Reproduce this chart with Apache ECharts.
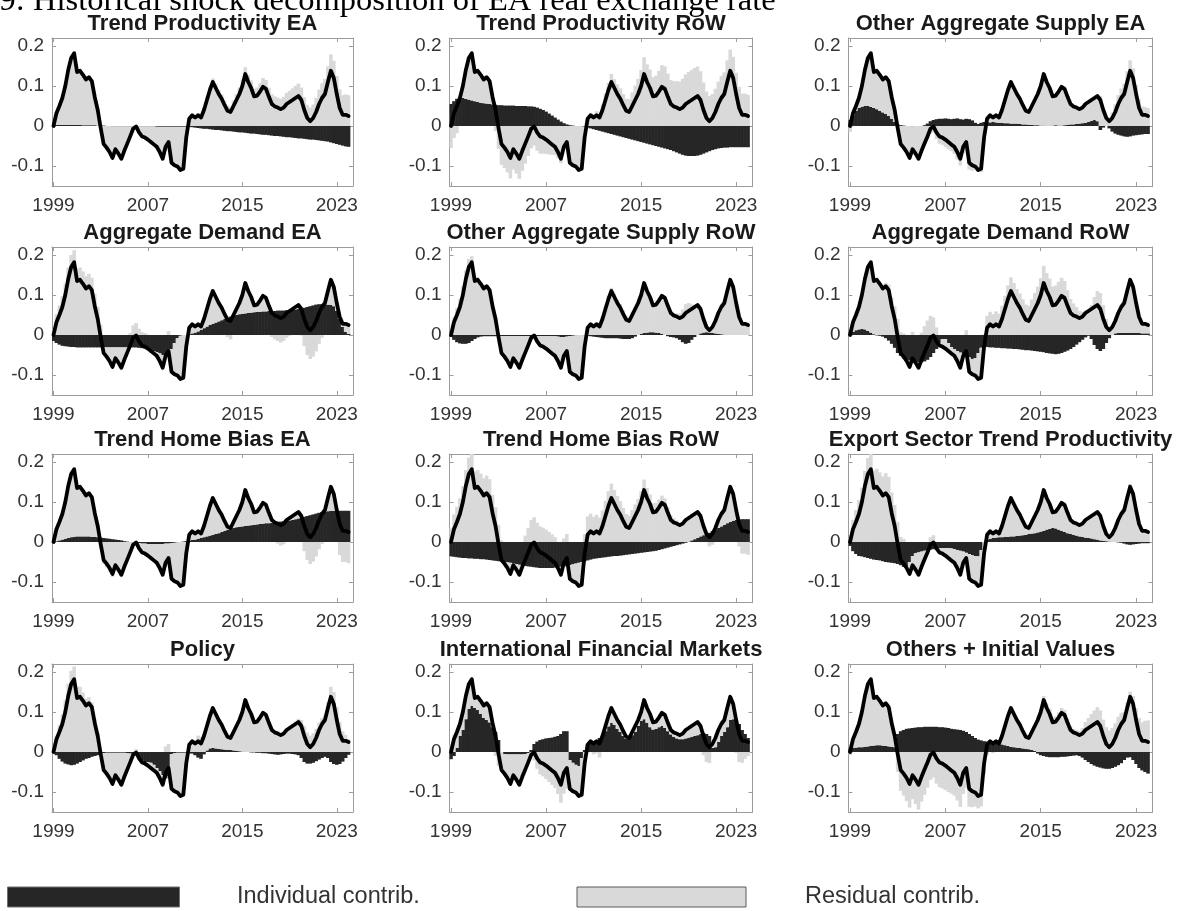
<!DOCTYPE html>
<html>
<head>
<meta charset="utf-8">
<script src="https://cdn.jsdelivr.net/npm/echarts@6/dist/echarts.min.js"></script>
<style>
  html, body { margin: 0; padding: 0; background: #ffffff; }
  #chart { width: 1177px; height: 911px; }
</style>
</head>
<body>
<div id="chart"></div>
<script>
// Quarterly categories 1999Q1 .. 2024Q2 (last quarter left empty as axis padding)
const quarters = [];
for (let y = 1999; y <= 2024; y++) {
  for (let q = 1; q <= 4; q++) {
    if (y === 2024 && q > 2) break;
    quarters.push(y + 'Q' + q);
  }
}
const tickYears = ['1999', '2007', '2015', '2023'];

const panelTitles = [
  'Trend Productivity EA', 'Trend Productivity RoW', 'Other Aggregate Supply EA',
  'Aggregate Demand EA', 'Other Aggregate Supply RoW', 'Aggregate Demand RoW',
  'Trend Home Bias EA', 'Trend Home Bias RoW', 'Export Sector Trend Productivity',
  'Policy', 'International Financial Markets', 'Others + Initial Values'
];

// EA real exchange rate (deviation), 1999Q1 .. 2024Q1
const realExchangeRate = [
  0.000, 0.032, 0.050, 0.070,
  0.100, 0.140, 0.170, 0.182,
  0.135, 0.138, 0.128, 0.116,
  0.122, 0.112, 0.072, 0.040,
  -0.005, -0.045, -0.054, -0.065,
  -0.080, -0.058, -0.069, -0.082,
  -0.062, -0.044, -0.026, -0.007,
  -0.001, -0.016, -0.026, -0.029,
  -0.034, -0.040, -0.046, -0.052,
  -0.065, -0.082, -0.052, -0.040,
  -0.092, -0.098, -0.101, -0.110,
  -0.107, -0.028, 0.018, 0.027,
  0.021, 0.027, 0.021, 0.040,
  0.065, 0.090, 0.110, 0.095,
  0.080, 0.068, 0.052, 0.038,
  0.035, 0.050, 0.065, 0.080,
  0.100, 0.130, 0.110, 0.095,
  0.074, 0.076, 0.086, 0.098,
  0.093, 0.073, 0.055, 0.049,
  0.046, 0.042, 0.046, 0.055,
  0.060, 0.065, 0.070, 0.075,
  0.065, 0.040, 0.020, 0.012,
  0.020, 0.035, 0.055, 0.070,
  0.080, 0.110, 0.138, 0.120,
  0.080, 0.045, 0.028, 0.028,
  0.025
];

// Individual shock contributions, 1999Q1 .. 2024Q1
const trendProdEA = [
  0.003, 0.003, 0.003, 0.003,
  0.003, 0.003, 0.003, 0.003,
  0.003, 0.003, 0.002, 0.002,
  0.002, 0.002, 0.002, 0.001,
  0.001, 0.001, 0.000, 0.000,
  -0.001, -0.001, -0.001, -0.001,
  -0.001, -0.001, -0.001, -0.001,
  -0.001, -0.001, -0.001, -0.001,
  -0.001, -0.001, -0.001, -0.002,
  -0.002, -0.002, -0.002, -0.002,
  -0.002, -0.002, -0.002, -0.002,
  -0.002, -0.002, -0.002, -0.003,
  -0.004, -0.005, -0.006, -0.007,
  -0.007, -0.008, -0.009, -0.010,
  -0.010, -0.011, -0.012, -0.013,
  -0.013, -0.014, -0.015, -0.016,
  -0.016, -0.017, -0.018, -0.019,
  -0.019, -0.020, -0.021, -0.022,
  -0.022, -0.023, -0.024, -0.025,
  -0.025, -0.026, -0.027, -0.028,
  -0.028, -0.029, -0.030, -0.031,
  -0.031, -0.032, -0.033, -0.034,
  -0.034, -0.035, -0.036, -0.037,
  -0.038, -0.039, -0.041, -0.043,
  -0.045, -0.047, -0.049, -0.051,
  -0.052
];

const trendProdRoW = [
  0.055, 0.062, 0.068, 0.070,
  0.070, 0.068, 0.066, 0.064,
  0.062, 0.060, 0.058, 0.057,
  0.056, 0.055, 0.054, 0.053,
  0.052, 0.052, 0.051, 0.051,
  0.051, 0.051, 0.050, 0.050,
  0.050, 0.050, 0.049, 0.049,
  0.048, 0.046, 0.043, 0.040,
  0.036, 0.031, 0.026, 0.021,
  0.016, 0.011, 0.007, 0.004,
  0.002, 0.001, 0.000, 0.000,
  -0.001, -0.002, -0.004, -0.006,
  -0.008, -0.010, -0.012, -0.014,
  -0.016, -0.018, -0.020, -0.022,
  -0.024, -0.026, -0.028, -0.030,
  -0.032, -0.034, -0.036, -0.038,
  -0.040, -0.042, -0.044, -0.046,
  -0.048, -0.050, -0.052, -0.054,
  -0.056, -0.058, -0.060, -0.063,
  -0.066, -0.069, -0.072, -0.074,
  -0.075, -0.075, -0.075, -0.074,
  -0.072, -0.069, -0.066, -0.063,
  -0.060, -0.058, -0.056, -0.055,
  -0.054, -0.054, -0.053, -0.053,
  -0.053, -0.053, -0.053, -0.053,
  -0.053
];

const otherSupplyEA = [
  0.015, 0.027, 0.038, 0.045,
  0.048, 0.050, 0.050, 0.048,
  0.045, 0.042, 0.038, 0.034,
  0.030, 0.025, 0.018, 0.010,
  0.004, 0.002, 0.001, 0.000,
  0.000, -0.001, 0.000, 0.000,
  0.000, 0.002, 0.006, 0.012,
  0.015, 0.017, 0.018, 0.018,
  0.019, 0.018, 0.017, 0.018,
  0.019, 0.017, 0.016, 0.018,
  0.017, 0.014, 0.008, 0.005,
  0.008, 0.010, 0.010, 0.009,
  0.010, 0.009, 0.008, 0.008,
  0.007, 0.007, 0.006, 0.006,
  0.006, 0.005, 0.004, 0.004,
  0.003, 0.003, 0.002, 0.002,
  0.001, 0.001, 0.000, 0.000,
  0.001, 0.002, 0.001, 0.001,
  0.002, 0.003, 0.004, 0.004,
  0.005, 0.006, 0.007, 0.008,
  0.010, 0.013, 0.015, 0.012,
  -0.010, -0.004, 0.000, -0.006,
  -0.014, -0.019, -0.022, -0.024,
  -0.026, -0.027, -0.026, -0.024,
  -0.023, -0.022, -0.021, -0.020,
  -0.020
];

const aggDemandEA = [
  -0.015, -0.020, -0.024, -0.027,
  -0.028, -0.029, -0.030, -0.030,
  -0.031, -0.031, -0.031, -0.031,
  -0.031, -0.031, -0.031, -0.031,
  -0.031, -0.031, -0.031, -0.031,
  -0.031, -0.031, -0.031, -0.031,
  -0.031, -0.031, -0.031, -0.031,
  -0.031, -0.032, -0.033, -0.034,
  -0.035, -0.037, -0.040, -0.043,
  -0.046, -0.050, -0.052, -0.050,
  -0.035, -0.020, -0.008, -0.002,
  0.000, 0.000, 0.002, 0.004,
  0.006, 0.009, 0.013, 0.017,
  0.021, 0.025, 0.028, 0.031,
  0.034, 0.037, 0.040, 0.043,
  0.046, 0.048, 0.050, 0.052,
  0.053, 0.054, 0.055, 0.056,
  0.057, 0.058, 0.058, 0.059,
  0.059, 0.060, 0.060, 0.060,
  0.061, 0.061, 0.061, 0.062,
  0.062, 0.063, 0.064, 0.065,
  0.066, 0.068, 0.070, 0.072,
  0.074, 0.076, 0.077, 0.077,
  0.077, 0.076, 0.075, 0.072,
  0.060, 0.040, 0.020, 0.008,
  0.003
];

const otherSupplyRoW = [
  -0.005, -0.012, -0.018, -0.021,
  -0.022, -0.022, -0.020, -0.015,
  -0.010, -0.006, -0.004, -0.003,
  -0.003, -0.003, -0.003, -0.003,
  -0.003, -0.003, -0.003, -0.003,
  -0.003, -0.003, -0.003, -0.003,
  -0.003, -0.003, -0.003, -0.003,
  -0.003, -0.003, -0.003, -0.003,
  -0.003, -0.003, -0.003, -0.003,
  -0.004, -0.005, -0.005, -0.004,
  -0.003, -0.002, -0.001, 0.000,
  0.000, -0.001, -0.002, -0.003,
  -0.004, -0.005, -0.006, -0.007,
  -0.008, -0.008, -0.008, -0.008,
  -0.008, -0.009, -0.010, -0.010,
  -0.010, -0.008, -0.004, 0.000,
  0.003, 0.005, 0.006, 0.007,
  0.007, 0.006, 0.005, 0.003,
  0.000, -0.003, -0.005, -0.006,
  -0.008, -0.012, -0.018, -0.022,
  -0.020, -0.012, -0.005, 0.000,
  0.004, 0.006, 0.007, 0.006,
  0.005, 0.004, 0.003, 0.002,
  0.001, 0.000, 0.000, 0.000,
  0.000, 0.000, 0.000, 0.000,
  0.000
];

const aggDemandRoW = [
  0.002, 0.008, 0.012, 0.014,
  0.015, 0.014, 0.010, 0.006,
  0.002, -0.001, -0.002, -0.004,
  -0.008, -0.014, -0.022, -0.032,
  -0.045, -0.052, -0.058, -0.062,
  -0.064, -0.066, -0.068, -0.068,
  -0.068, -0.066, -0.062, -0.055,
  -0.045, -0.035, -0.020, -0.010,
  -0.010, -0.020, -0.030, -0.035,
  -0.040, -0.044, -0.048, -0.052,
  -0.056, -0.060, -0.058, -0.045,
  -0.032, -0.030, -0.030, -0.031,
  -0.031, -0.032, -0.032, -0.033,
  -0.033, -0.034, -0.034, -0.035,
  -0.035, -0.036, -0.037, -0.038,
  -0.038, -0.039, -0.040, -0.041,
  -0.042, -0.043, -0.045, -0.046,
  -0.047, -0.048, -0.047, -0.045,
  -0.042, -0.039, -0.035, -0.030,
  -0.024, -0.018, -0.012, -0.006,
  -0.002, -0.010, -0.025, -0.035,
  -0.040, -0.035, -0.020, -0.008,
  0.000, 0.004, 0.005, 0.005,
  0.005, 0.005, 0.005, 0.005,
  0.005, 0.005, 0.004, 0.004,
  0.004
];

const homeBiasEA = [
  0.000, 0.002, 0.004, 0.006,
  0.008, 0.010, 0.012, 0.013,
  0.014, 0.014, 0.014, 0.014,
  0.014, 0.013, 0.013, 0.012,
  0.011, 0.010, 0.009, 0.008,
  0.007, 0.006, 0.005, 0.004,
  0.002, 0.001, 0.000, -0.001,
  -0.002, -0.003, -0.004, -0.004,
  -0.005, -0.005, -0.005, -0.005,
  -0.005, -0.005, -0.004, -0.004,
  -0.003, -0.002, -0.001, 0.000,
  0.001, 0.002, 0.003, 0.005,
  0.006, 0.008, 0.010, 0.012,
  0.014, 0.016, 0.018, 0.020,
  0.022, 0.025, 0.028, 0.031,
  0.033, 0.035, 0.037, 0.038,
  0.039, 0.040, 0.041, 0.042,
  0.043, 0.044, 0.045, 0.046,
  0.047, 0.047, 0.048, 0.049,
  0.050, 0.051, 0.052, 0.053,
  0.054, 0.055, 0.057, 0.059,
  0.061, 0.063, 0.065, 0.067,
  0.069, 0.071, 0.073, 0.075,
  0.076, 0.077, 0.078, 0.078,
  0.078, 0.078, 0.078, 0.078,
  0.078
];

const homeBiasRoW = [
  -0.036, -0.037, -0.038, -0.039,
  -0.040, -0.040, -0.041, -0.041,
  -0.042, -0.042, -0.043, -0.043,
  -0.044, -0.045, -0.046, -0.047,
  -0.048, -0.049, -0.050, -0.051,
  -0.052, -0.054, -0.055, -0.057,
  -0.058, -0.060, -0.061, -0.062,
  -0.063, -0.064, -0.065, -0.065,
  -0.065, -0.065, -0.065, -0.064,
  -0.063, -0.062, -0.061, -0.060,
  -0.058, -0.056, -0.054, -0.052,
  -0.050, -0.048, -0.046, -0.044,
  -0.042, -0.041, -0.040, -0.039,
  -0.038, -0.037, -0.036, -0.035,
  -0.035, -0.034, -0.033, -0.032,
  -0.031, -0.030, -0.029, -0.028,
  -0.027, -0.026, -0.025, -0.024,
  -0.023, -0.022, -0.020, -0.018,
  -0.016, -0.014, -0.012, -0.010,
  -0.008, -0.006, -0.004, -0.002,
  0.001, 0.004, 0.007, 0.010,
  0.014, 0.017, 0.020, 0.023,
  0.027, 0.031, 0.035, 0.039,
  0.043, 0.047, 0.050, 0.053,
  0.055, 0.056, 0.057, 0.057,
  0.057
];

const exportSectorTP = [
  -0.010, -0.023, -0.030, -0.035,
  -0.036, -0.038, -0.040, -0.042,
  -0.044, -0.045, -0.046, -0.048,
  -0.050, -0.051, -0.052, -0.053,
  -0.055, -0.058, -0.062, -0.065,
  -0.050, -0.035, -0.028, -0.026,
  -0.024, -0.022, -0.020, -0.019,
  -0.018, -0.017, -0.016, -0.015,
  -0.015, -0.015, -0.016, -0.018,
  -0.020, -0.022, -0.024, -0.027,
  -0.030, -0.033, -0.035, -0.036,
  -0.020, 0.000, 0.006, 0.008,
  0.010, 0.011, 0.012, 0.012,
  0.013, 0.013, 0.014, 0.014,
  0.015, 0.016, 0.017, 0.018,
  0.020, 0.021, 0.022, 0.024,
  0.026, 0.028, 0.031, 0.033,
  0.035, 0.034, 0.031, 0.028,
  0.025, 0.022, 0.020, 0.018,
  0.016, 0.014, 0.013, 0.011,
  0.010, 0.009, 0.007, 0.006,
  0.004, 0.003, 0.002, 0.001,
  0.000, 0.000, -0.001, -0.002,
  -0.004, -0.006, -0.007, -0.006,
  -0.005, -0.004, -0.003, -0.003,
  -0.003
];

const policy = [
  0.000, -0.008, -0.017, -0.024,
  -0.029, -0.031, -0.033, -0.032,
  -0.029, -0.025, -0.021, -0.017,
  -0.015, -0.012, -0.010, -0.008,
  -0.005, -0.003, -0.002, -0.002,
  -0.002, -0.002, -0.002, -0.002,
  -0.002, -0.003, -0.004, -0.006,
  -0.008, -0.015, -0.022, -0.025,
  -0.025, -0.027, -0.032, -0.040,
  -0.048, -0.058, -0.066, -0.060,
  -0.005, -0.003, -0.002, -0.002,
  -0.002, -0.002, -0.003, -0.004,
  -0.008, -0.014, -0.017, -0.006,
  0.004, 0.009, 0.010, 0.009,
  0.008, 0.007, 0.006, 0.005,
  0.005, 0.004, 0.003, 0.002,
  0.001, 0.000, 0.000, -0.001,
  -0.001, -0.002, -0.002, -0.003,
  -0.003, -0.004, -0.005, -0.006,
  -0.007, -0.006, -0.005, -0.004,
  -0.004, -0.005, -0.006, -0.008,
  -0.015, -0.025, -0.029, -0.029,
  -0.027, -0.023, -0.019, -0.015,
  -0.012, -0.015, -0.025, -0.030,
  -0.032, -0.030, -0.024, -0.015,
  -0.007
];

const intlFinMarkets = [
  -0.018, -0.010, 0.010, 0.040,
  0.055, 0.082, 0.108, 0.115,
  0.110, 0.105, 0.095, 0.085,
  0.080, 0.074, 0.062, 0.050,
  0.030, 0.000, -0.005, -0.006,
  -0.006, -0.006, -0.006, -0.006,
  -0.006, -0.005, -0.003, 0.005,
  0.020, 0.026, 0.030, 0.032,
  0.034, 0.035, 0.036, 0.038,
  0.040, 0.045, 0.052, 0.052,
  -0.020, -0.027, -0.032, -0.035,
  -0.015, 0.005, 0.020, 0.024,
  0.027, 0.030, 0.035, 0.040,
  0.052, 0.064, 0.073, 0.068,
  0.058, 0.050, 0.040, 0.033,
  0.035, 0.042, 0.050, 0.065,
  0.078, 0.082, 0.073, 0.062,
  0.056, 0.058, 0.062, 0.065,
  0.060, 0.052, 0.044, 0.038,
  0.034, 0.032, 0.032, 0.034,
  0.036, 0.038, 0.040, 0.042,
  0.045, 0.048, 0.045, 0.040,
  0.010, 0.012, 0.025, 0.040,
  0.050, 0.062, 0.080, 0.082,
  0.082, 0.070, 0.055, 0.045,
  0.035
];

const othersInitial = [
  0.008, 0.010, 0.011, 0.012,
  0.012, 0.013, 0.014, 0.015,
  0.016, 0.017, 0.017, 0.016,
  0.015, 0.014, 0.013, 0.012,
  0.045, 0.052, 0.055, 0.058,
  0.059, 0.060, 0.061, 0.062,
  0.062, 0.063, 0.063, 0.063,
  0.063, 0.063, 0.062, 0.062,
  0.061, 0.060, 0.058, 0.057,
  0.056, 0.055, 0.053, 0.050,
  0.045, 0.040, 0.035, 0.031,
  0.029, 0.027, 0.026, 0.025,
  0.024, 0.022, 0.021, 0.019,
  0.017, 0.015, 0.013, 0.012,
  0.011, 0.010, 0.009, 0.008,
  0.007, 0.005, 0.003, -0.004,
  -0.008, -0.010, -0.012, -0.013,
  -0.013, -0.013, -0.013, -0.012,
  -0.012, -0.011, -0.010, -0.009,
  -0.008, -0.010, -0.014, -0.020,
  -0.025, -0.030, -0.034, -0.037,
  -0.039, -0.041, -0.042, -0.042,
  -0.040, -0.037, -0.033, -0.028,
  -0.020, -0.014, -0.013, -0.020,
  -0.030, -0.040, -0.046, -0.050,
  -0.054
];

const contributions = [
  trendProdEA, trendProdRoW, otherSupplyEA,
  aggDemandEA, otherSupplyRoW, aggDemandRoW,
  homeBiasEA, homeBiasRoW, exportSectorTP,
  policy, intlFinMarkets, othersInitial
];

// Panel geometry (px)
const colLeft = [52, 449.5, 848.5];
const colWidth = [301, 303, 304];
const rowTop = [38, 247, 454, 664];
const panelHeight = 148;

const DARK = '#262626';
const LIGHT = '#d9d9d9';
const AXIS = '#9c9c9c';
const TEXT = '#333333';
const FONT = '"Liberation Sans", Arial, Helvetica, sans-serif';

const isYearTick = (idx, val) => val.endsWith('Q1') && tickYears.indexOf(val.slice(0, 4)) >= 0;

const grids = [], xAxes = [], yAxes = [], series = [], titles = [];

contributions.forEach((indiv, k) => {
  const c = k % 3, r = Math.floor(k / 3);
  grids.push({
    left: colLeft[c], top: rowTop[r], width: colWidth[c], height: panelHeight,
    containLabel: false, outerBoundsMode: 'none', show: false
  });
  titles.push({
    text: panelTitles[k],
    left: colLeft[c] + colWidth[c] / 2,
    top: rowTop[r] - 25,
    textAlign: 'center',
    padding: 0,
    textStyle: { fontFamily: FONT, fontSize: 22, fontWeight: 'bold', color: '#1a1a1a' }
  });
  // bottom axis with year labels, top axis mirrors the ticks
  xAxes.push({
    type: 'category', gridIndex: k, data: quarters, position: 'bottom', boundaryGap: true,
    axisLine: { show: true, onZero: false, lineStyle: { color: AXIS, width: 1 } },
    axisTick: { show: true, inside: true, length: 4, alignWithLabel: true, interval: isYearTick,
                lineStyle: { color: AXIS } },
    axisLabel: { show: true, interval: isYearTick, formatter: v => v.slice(0, 4),
                 color: TEXT, fontFamily: FONT, fontSize: 19, margin: 10 },
    splitLine: { show: false }
  });
  xAxes.push({
    type: 'category', gridIndex: k, data: quarters, position: 'top', boundaryGap: true,
    axisLine: { show: true, onZero: false, lineStyle: { color: AXIS, width: 1 } },
    axisTick: { show: true, inside: true, length: 4, alignWithLabel: true, interval: isYearTick,
                lineStyle: { color: AXIS } },
    axisLabel: { show: false },
    splitLine: { show: false }
  });
  yAxes.push({
    type: 'value', gridIndex: k, min: -0.15, max: 0.22, splitNumber: 5, position: 'left',
    axisLine: { show: true, onZero: false, lineStyle: { color: AXIS, width: 1 } },
    axisTick: { show: true, inside: true, length: 4, lineStyle: { color: AXIS } },
    axisLabel: { show: true, showMinLabel: false, showMaxLabel: false, color: TEXT,
                 fontFamily: FONT, fontSize: 19, margin: 8,
                 formatter: v => (Math.abs(v) < 1e-9 ? '0' : String(+v.toFixed(2))) },
    splitLine: { show: false }
  });
  yAxes.push({
    type: 'value', gridIndex: k, min: -0.15, max: 0.22, splitNumber: 5, position: 'right',
    axisLine: { show: true, onZero: false, lineStyle: { color: AXIS, width: 1 } },
    axisTick: { show: true, inside: true, length: 4, lineStyle: { color: AXIS } },
    axisLabel: { show: false },
    splitLine: { show: false }
  });

  // residual = total minus this shock's contribution
  const residual = realExchangeRate.map((v, i) => +(v - indiv[i]).toFixed(4));

  // bars slightly wider than a quarter's band so neighbours overlap without seams
  series.push({
    type: 'bar', name: 'Individual contrib.', xAxisIndex: 2 * k, yAxisIndex: 2 * k,
    stack: 'p' + k, data: indiv, barWidth: 3.6, silent: true, z: 2,
    itemStyle: { color: DARK }
  });
  series.push({
    type: 'bar', name: 'Residual contrib.', xAxisIndex: 2 * k, yAxisIndex: 2 * k,
    stack: 'p' + k, data: residual, barWidth: 3.6, silent: true, z: 2,
    itemStyle: { color: LIGHT }
  });
  series.push({
    type: 'line', name: 'Real exchange rate', xAxisIndex: 2 * k, yAxisIndex: 2 * k,
    data: realExchangeRate, symbol: 'none', silent: true, z: 5,
    lineStyle: { color: '#000000', width: 3.8, join: 'round', cap: 'round' }
  });
});

const chart = echarts.init(document.getElementById('chart'), null, { renderer: 'canvas' });
chart.setOption({
  animation: false,
  backgroundColor: '#ffffff',
  title: titles,
  grid: grids,
  xAxis: xAxes,
  yAxis: yAxes,
  series: series,
  graphic: [
    {
      type: 'text', x: -60, y: 1.5, silent: true,
      style: { text: 'Fig. 9: Historical shock decomposition of EA real exchange rate',
               font: '32.5px "Liberation Serif", "Times New Roman", serif', fill: '#000',
               verticalAlign: 'middle' }
    },
    { type: 'rect', silent: true, shape: { x: 7.5, y: 887, width: 172, height: 20 },
      style: { fill: DARK, stroke: '#6f6f6f', lineWidth: 1 } },
    { type: 'text', silent: true, x: 237, y: 897,
      style: { text: 'Individual contrib.', font: '23.5px ' + FONT, fill: TEXT, verticalAlign: 'middle' } },
    { type: 'rect', silent: true, shape: { x: 577, y: 887, width: 169, height: 20 },
      style: { fill: LIGHT, stroke: '#5a5a5a', lineWidth: 1 } },
    { type: 'text', silent: true, x: 805, y: 897,
      style: { text: 'Residual contrib.', font: '23.5px ' + FONT, fill: TEXT, verticalAlign: 'middle' } }
  ]
});
</script>
</body>
</html>
